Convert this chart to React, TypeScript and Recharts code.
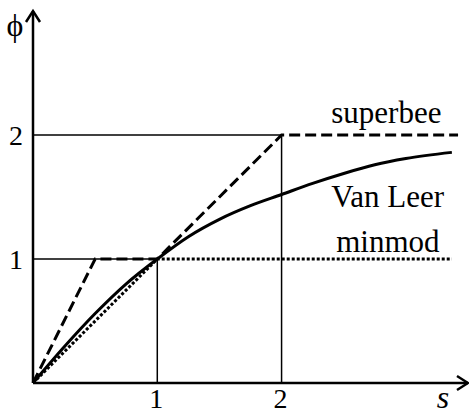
import {
  LineChart,
  Line,
  XAxis,
  YAxis,
  ReferenceLine,
  ReferenceDot,
} from "recharts";

// limiter curves, phi(s)
const superbeeS = [0, 0.5, 1, 2, 3.42];
const superbeePhi = [0, 1, 1, 2, 2];

const vanLeerS = [0, 0.25, 0.5, 0.75, 1, 1.25, 1.5, 1.75, 2, 2.25, 2.5, 2.75, 3, 3.37];
const vanLeerPhi = [0, 0.29, 0.56, 0.8, 1, 1.18, 1.32, 1.43, 1.52, 1.61, 1.69, 1.76, 1.81, 1.86];

const minmodS = [0, 1, 3.37];
const minmodPhi = [0, 1, 1];

const xTicks = [1, 2];
const yTicks = [1, 2];

const toPoints = (s: number[], phi: number[]) => s.map((v, i) => ({ s: v, phi: phi[i] }));

const superbee = toPoints(superbeeS, superbeePhi);
const vanLeer = toPoints(vanLeerS, vanLeerPhi);
const minmod = toPoints(minmodS, minmodPhi);

const FONT = "'Liberation Serif', 'Times New Roman', serif";
const INK = "#000";

const XTick = (p: any) => (
  <text x={p.x - 1} y={p.y + 17} textAnchor="middle" fontFamily={FONT} fontSize={28} fill={INK}>
    {p.payload.value}
  </text>
);

const YTick = (p: any) => (
  <text x={p.x - 9} y={p.y + 10} textAnchor="middle" fontFamily={FONT} fontSize={28} fill={INK}>
    {p.payload.value}
  </text>
);

const ArrowRight = (p: any) => (
  <polyline
    points={`${p.cx - 11},${p.cy - 7} ${p.cx},${p.cy} ${p.cx - 11},${p.cy + 7}`}
    fill="none"
    stroke={INK}
    strokeWidth={2.5}
  />
);

const ArrowUp = (p: any) => (
  <polyline
    points={`${p.cx - 7},${p.cy + 11} ${p.cx},${p.cy} ${p.cx + 7},${p.cy + 11}`}
    fill="none"
    stroke={INK}
    strokeWidth={2.5}
  />
);

const textAt = (label: string, size: number) => (p: any) => (
  <text x={p.cx} y={p.cy} fontFamily={FONT} fontSize={size} fill={INK}>
    {label}
  </text>
);

export default function App() {
  return (
    <div style={{ position: "absolute", left: 0, top: 0, background: "#fff" }}>
      <LineChart width={469} height={415} margin={{ top: 11, right: 1, bottom: 0, left: 0 }}>
        <XAxis
          type="number"
          dataKey="s"
          domain={[0, 3.5]}
          ticks={xTicks}
          tick={XTick}
          tickLine={false}
          axisLine={{ stroke: INK, strokeWidth: 2.5 }}
          height={32}
        />
        <YAxis
          type="number"
          dataKey="phi"
          domain={[0, 3]}
          ticks={yTicks}
          tick={YTick}
          tickLine={false}
          axisLine={{ stroke: INK, strokeWidth: 2.5 }}
          width={33}
        />

        {/* guide lines at s = 1, 2 */}
        <ReferenceLine segment={[{ x: 0, y: 2 }, { x: 2, y: 2 }]} stroke={INK} strokeWidth={1.5} />
        <ReferenceLine segment={[{ x: 0, y: 1 }, { x: 1, y: 1 }]} stroke={INK} strokeWidth={1.5} />
        <ReferenceLine segment={[{ x: 1, y: 0 }, { x: 1, y: 1 }]} stroke={INK} strokeWidth={1.5} />
        <ReferenceLine segment={[{ x: 2, y: 0 }, { x: 2, y: 2 }]} stroke={INK} strokeWidth={1.5} />

        <Line
          data={minmod}
          dataKey="phi"
          type="linear"
          stroke={INK}
          strokeWidth={3}
          strokeDasharray="3 2"
          dot={false}
          isAnimationActive={false}
        />
        <Line
          data={vanLeer}
          dataKey="phi"
          type="monotone"
          stroke={INK}
          strokeWidth={3}
          dot={false}
          isAnimationActive={false}
        />
        <Line
          data={superbee}
          dataKey="phi"
          type="linear"
          stroke={INK}
          strokeWidth={3}
          strokeDasharray="11 5"
          dot={false}
          isAnimationActive={false}
        />

        {/* axis arrowheads */}
        <ReferenceDot x={3.5} y={0} shape={ArrowRight} />
        <ReferenceDot x={0} y={3} shape={ArrowUp} />

        {/* curve names */}
        <ReferenceDot x={2.4} y={2.1} shape={textAt("superbee", 31)} />
        <ReferenceDot x={2.4} y={1.42} shape={textAt("Van Leer", 31)} />
        <ReferenceDot x={2.44} y={1.056} shape={textAt("minmod", 31)} />
      </LineChart>
      <svg width={469} height={415} style={{ position: "absolute", left: 0, top: 0, pointerEvents: "none" }}>
        <text x={15} y={36} textAnchor="middle" fontFamily={FONT} fontSize={32} fill={INK}>
          ϕ
        </text>
        <text x={443} y={408} textAnchor="middle" fontFamily={FONT} fontSize={32} fontStyle="italic" fill={INK}>
          s
        </text>
      </svg>
    </div>
  );
}
